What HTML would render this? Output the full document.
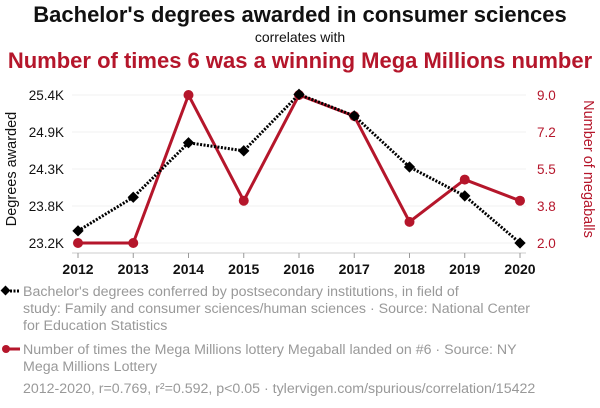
<!DOCTYPE html>
<html><head><meta charset="utf-8"><style>
body{margin:0;background:#fff;width:600px;height:408px;overflow:hidden;font-family:"Liberation Sans",sans-serif}
svg{display:block}
</style></head><body>
<svg width="600" height="408" id="chart">
<text x="300" y="22" text-anchor="middle" font-size="22" font-weight="bold" fill="#111">Bachelor's degrees awarded in consumer sciences</text>
<text x="300" y="42" text-anchor="middle" font-size="14" fill="#111">correlates with</text>
<text x="300" y="68" text-anchor="middle" font-size="22" font-weight="bold" fill="#b5162b">Number of times 6 was a winning Mega Millions number</text>
<g id="grid"></g>
<line x1="72" x2="526" y1="253" y2="253" stroke="#ccc"/>
<g id="xt"></g><g id="yl"></g><g id="yr"></g>
<text transform="translate(16,169) rotate(-90)" text-anchor="middle" font-size="14.5" fill="#111">Degrees awarded</text>
<text transform="translate(584,169) rotate(90)" text-anchor="middle" font-size="14.5" fill="#b5162b">Number of megaballs</text>
<g id="series"></g>
<g>
<line x1="3" x2="20" y1="291" y2="291" stroke="#000" stroke-width="3" stroke-dasharray="2,1.5"/>
<rect x="2" y="287" width="7" height="7" transform="rotate(45 5.5 290.5)" fill="#000"/>
<text font-size="14.2" fill="#999"><tspan x="23" y="296">Bachelor's degrees conferred by postsecondary institutions, in field of</tspan><tspan x="23" y="313">study: Family and consumer sciences/human sciences · Source: National Center</tspan><tspan x="23" y="330">for Education Statistics</tspan></text>
</g>
<g>
<line x1="3" x2="20" y1="349" y2="349" stroke="#b5162b" stroke-width="3"/>
<circle cx="6" cy="349" r="4" fill="#b5162b"/>
<text font-size="14.2" fill="#999"><tspan x="23" y="354">Number of times the Mega Millions lottery Megaball landed on #6 · Source: NY</tspan><tspan x="23" y="371">Mega Millions Lottery</tspan></text>
</g>
<text x="23" y="393" font-size="14.2" fill="#999">2012-2020, r=0.769, r²=0.592, p&lt;0.05 · tylervigen.com/spurious/correlation/15422</text>
</svg>
<script>
const years=[2012,2013,2014,2015,2016,2017,2018,2019,2020];
const degrees=[23.38,23.88,24.69,24.57,25.41,25.09,24.33,23.9,23.2];
const megaballs=[2,2,9,4,9,8,3,5,4];
const leftTicks=["23.2K","23.8K","24.3K","24.9K","25.4K"];
const rightTicks=["2.0","3.8","5.5","7.2","9.0"];
const NS="http://www.w3.org/2000/svg";
const x=i=>78+i*(520-78)/(years.length-1);
const yl=v=>243-(v-23.2)/(25.4-23.2)*148;
const yr=v=>243-(v-2)/(9-2)*148;
function mk(t,a,p){const e=document.createElementNS(NS,t);for(const k in a)e.setAttribute(k,a[k]);document.getElementById(p).appendChild(e);return e;}
for(let i=0;i<5;i++){const y=243-i*37;
const g=mk('line',{x1:72,x2:526,y1:y,y2:y,stroke:'#f0f0f0'},'grid');


const a=mk('text',{x:64,y:y+5,'text-anchor':'end','font-size':13.5,fill:'#111'},'yl');a.textContent=leftTicks[i];


const b=mk('text',{x:537,y:y+5,'font-size':13.5,fill:'#b5162b'},'yr');b.textContent=rightTicks[i];

}
years.forEach((yv,i)=>{mk('line',{x1:x(i),x2:x(i),y1:253,y2:258,stroke:'#999'},'xt');
const t=mk('text',{x:x(i),y:274,'text-anchor':'middle','font-size':14,'font-weight':'bold',fill:'#111'},'xt');t.textContent=yv;

});
const rl=mk('polyline',{points:megaballs.map((v,i)=>x(i)+','+yr(v)).join(' '),fill:'none',stroke:'#b5162b','stroke-width':3},'series');


megaballs.forEach((v,i)=>{const c=mk('circle',{cx:x(i),cy:yr(v),r:5,fill:'#b5162b'},'series');

});
const bl=mk('polyline',{points:degrees.map((v,i)=>x(i)+','+yl(v)).join(' '),fill:'none',stroke:'#000','stroke-width':3,'stroke-dasharray':'2,1.5'},'series');


degrees.forEach((v,i)=>{const r=mk('rect',{x:x(i)-4,y:yl(v)-4,width:8,height:8,fill:'#000',transform:`rotate(45 ${x(i)} ${yl(v)})`},'series');

});
</script>
</body></html>
